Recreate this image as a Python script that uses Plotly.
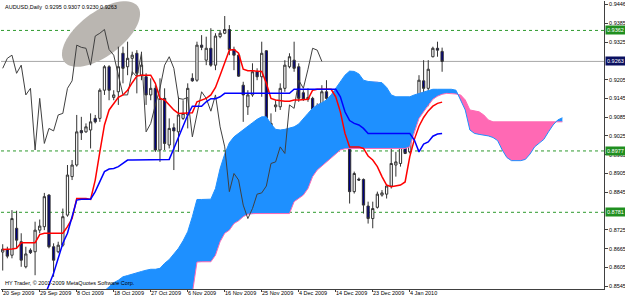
import numpy as np
import plotly.graph_objects as go

# ---------------- data ----------------
bars = list(range(96))
open_ = [0.8654,0.8662,0.8644,0.8730,0.8687,0.8607,0.8660,0.8655,0.8724,0.8735,
         0.8836,0.8671,0.8655,0.8676,0.8772,0.8895,0.8932,0.9042,0.9038,0.9044,
         0.9081,0.9081,0.9171,0.9246,0.9148,0.9166,0.9289,0.9246,0.9273,0.9289,
         0.9219,0.9214,0.9156,0.9177,0.8980,0.9145,0.8996,0.9051,0.9038,0.9081,
         0.9092,0.9209,0.9203,0.9315,0.9267,0.9305,0.9251,0.9342,0.9353,0.9365,
         0.9301,0.9283,0.9187,0.9118,0.9156,0.9230,0.9214,0.9297,0.9038,0.9118,
         0.9118,0.9177,0.9246,0.9267,0.9246,0.9163,0.9142,0.9145,0.9022,0.9092,
         0.9166,0.9099,0.9102,0.9156,0.9065,0.8990,0.8847,0.8887,0.8886,0.8801,
         0.8761,0.8797,0.8836,0.8839,0.8865,0.8932,0.8937,0.8990,0.8974,0.9127,
         0.9118,0.9201,0.9177,0.9278,0.9305,0.9295]
high = [0.8679,0.8671,0.8788,0.8786,0.8714,0.8671,0.8666,0.8751,0.8758,0.8843,
        0.8839,0.8682,0.8687,0.8793,0.8932,0.8948,0.9092,0.9086,0.9065,0.9097,
        0.9092,0.9177,0.9251,0.9251,0.9171,0.9310,0.9310,0.9326,0.9294,0.9299,
        0.9294,0.9225,0.9209,0.9187,0.9209,0.9177,0.9081,0.9065,0.9150,0.9139,
        0.9193,0.9225,0.9326,0.9347,0.9342,0.9369,0.9353,0.9363,0.9408,0.9379,
        0.9310,0.9285,0.9198,0.9171,0.9257,0.9241,0.9326,0.9299,0.9097,0.9139,
        0.9193,0.9267,0.9289,0.9326,0.9257,0.9171,0.9177,0.9150,0.9129,0.9187,
        0.9203,0.9118,0.9171,0.9166,0.9076,0.8993,0.8911,0.8892,0.8889,0.8815,
        0.8815,0.8847,0.8852,0.8868,0.8996,0.8974,0.9006,0.8996,0.9129,0.9156,
        0.9219,0.9267,0.9267,0.9310,0.9326,0.9307]
low = [0.8595,0.8634,0.8634,0.8666,0.8607,0.8602,0.8648,0.8580,0.8714,0.8724,
       0.8666,0.8575,0.8650,0.8671,0.8767,0.8884,0.8927,0.9012,0.9035,0.8985,
       0.9065,0.9070,0.9156,0.9139,0.9139,0.9124,0.9193,0.9219,0.9219,0.9161,
       0.9203,0.9124,0.9139,0.8974,0.8942,0.8980,0.8985,0.8916,0.8974,0.9076,
       0.9049,0.9198,0.9198,0.9299,0.9251,0.9246,0.9235,0.9337,0.9350,0.9283,
       0.9235,0.9214,0.9070,0.9092,0.9150,0.9203,0.9150,0.9028,0.8942,0.9102,
       0.9108,0.9166,0.9241,0.9230,0.9134,0.9137,0.9134,0.9012,0.9017,0.9086,
       0.9139,0.9092,0.9092,0.9049,0.8985,0.8809,0.8841,0.8882,0.8777,0.8745,
       0.8730,0.8793,0.8831,0.8825,0.8857,0.8895,0.8927,0.8967,0.8969,0.9102,
       0.9108,0.9118,0.9120,0.9276,0.9278,0.9230]
close = [0.8663,0.8641,0.8761,0.8692,0.8628,0.8648,0.8652,0.8724,0.8737,0.8831,
         0.8671,0.8628,0.8676,0.8767,0.8900,0.8932,0.9038,0.9035,0.9054,0.9070,
         0.9070,0.9171,0.9246,0.9171,0.9156,0.9246,0.9241,0.9273,0.9283,0.9225,
         0.9251,0.9156,0.9177,0.8980,0.9145,0.9001,0.9049,0.9041,0.9092,0.9097,
         0.9177,0.9201,0.9315,0.9308,0.9305,0.9251,0.9344,0.9353,0.9365,0.9301,
         0.9283,0.9216,0.9156,0.9156,0.9230,0.9214,0.9289,0.9038,0.9065,0.9124,
         0.9177,0.9251,0.9278,0.9241,0.9145,0.9142,0.9148,0.9022,0.9097,0.9166,
         0.9145,0.9104,0.9156,0.9054,0.8990,0.8847,0.8905,0.8884,0.8804,0.8761,
         0.8793,0.8839,0.8843,0.8865,0.8937,0.8942,0.8990,0.8969,0.9124,0.9113,
         0.9203,0.9177,0.9238,0.9305,0.9299,0.9263]

tenkan = [0.8662,0.8662,0.8664,0.8666,0.8684,0.8684,0.8684,0.8684,0.8710,0.8714,
          0.8714,0.8714,0.8714,0.8714,0.8735,0.8761,0.8825,0.8825,0.8825,0.8822,
          0.8884,0.8974,0.9060,0.9108,0.9129,0.9148,0.9156,0.9171,0.9195,0.9216,
          0.9219,0.9219,0.9219,0.9193,0.9145,0.9140,0.9124,0.9108,0.9097,0.9097,
          0.9097,0.9099,0.9134,0.9140,0.9145,0.9156,0.9180,0.9219,0.9257,0.9299,
          0.9301,0.9289,0.9238,0.9233,0.9233,0.9233,0.9231,0.9193,0.9145,0.9140,
          0.9137,0.9136,0.9136,0.9140,0.9140,0.9142,0.9142,0.9171,0.9174,0.9174,
          0.9174,0.9174,0.9150,0.9102,0.9033,0.8990,0.8990,0.8990,0.8985,0.8961,
          0.8948,0.8927,0.8895,0.8868,0.8863,0.8865,0.8868,0.8878,0.8958,0.9014,
          0.9056,0.9084,0.9105,0.9120,0.9129,0.9133]

kijun = [None,None,None,None,None,None,None,None,0.8474,0.8511,
         0.8543,0.8586,0.8634,0.8682,0.8714,0.8767,0.8820,0.8823,0.8823,0.8823,
         0.8847,0.8879,0.8911,0.8919,0.8921,0.8927,0.8937,0.8948,0.8948,0.8948,
         0.8948,0.8948,0.8948,0.8948,0.8948,0.8948,0.8950,0.8985,0.9022,0.9054,
         0.9092,0.9120,0.9120,0.9120,0.9134,0.9144,0.9144,0.9150,0.9161,0.9161,
         0.9161,0.9161,0.9161,0.9161,0.9161,0.9161,0.9161,0.9161,0.9161,0.9161,
         0.9161,0.9161,0.9161,0.9174,0.9174,0.9174,0.9174,0.9174,0.9174,0.9174,
         0.9174,0.9174,0.9174,0.9150,0.9102,0.9074,0.9065,0.9060,0.9049,0.9033,
         0.9033,0.9033,0.9033,0.9033,0.9033,0.9033,0.9033,0.9033,0.9033,0.9012,
         0.8974,0.8999,0.9006,0.9024,0.9031,0.9033]

chikou_shift = 26

span_bars = list(range(20, 122))
span_a = [0.8511,0.8520,0.8530,0.8543,0.8556,0.8564,0.8575,0.8579,0.8584,0.8588,
          0.8592,0.8596,0.8599,0.8599,0.8602,0.8618,0.8630,0.8648,0.8666,0.8690,
          0.8719,0.8767,0.8822,0.8822,0.8822,0.8823,0.8857,0.8921,0.8967,0.9003,
          0.9022,0.9034,0.9046,0.9056,0.9067,0.9078,0.9086,0.9086,0.9063,0.9046,
          0.9044,0.9046,0.9049,0.9054,0.9063,0.9081,0.9097,0.9113,0.9124,0.9131,
          0.9140,0.9156,0.9177,0.9198,0.9219,0.9232,0.9231,0.9223,0.9203,0.9199,
          0.9198,0.9198,0.9195,0.9180,0.9156,0.9150,0.9150,0.9150,0.9150,0.9156,
          0.9161,0.9166,0.9169,0.9174,0.9174,0.9174,0.9174,0.9174,0.9171,0.9140,
          0.9108,0.9044,0.9033,0.9030,0.9028,0.9025,0.9020,0.9010,0.8980,0.8956,
          0.8946,0.8945,0.8946,0.8950,0.8967,0.8990,0.9003,0.9014,0.9038,0.9060,
          0.9076,0.9083]
span_b = [0.8495,0.8495,0.8495,0.8495,0.8495,0.8495,0.8495,0.8495,0.8495,0.8495,
          0.8495,0.8495,0.8495,0.8495,0.8495,0.8495,0.8495,0.8495,0.8495,0.8495,
          0.8495,0.8522,0.8622,0.8623,0.8623,0.8623,0.8644,0.8687,0.8714,0.8724,
          0.8745,0.8754,0.8767,0.8775,0.8777,0.8777,0.8777,0.8777,0.8777,0.8777,
          0.8777,0.8777,0.8777,0.8815,0.8825,0.8836,0.8857,0.8895,0.8916,0.8929,
          0.8942,0.8953,0.8967,0.8980,0.8984,0.8985,0.8985,0.8985,0.8985,0.8985,
          0.8985,0.8985,0.8985,0.8985,0.8985,0.8985,0.8985,0.8985,0.8990,0.9038,
          0.9081,0.9102,0.9124,0.9142,0.9152,0.9158,0.9161,0.9161,0.9159,0.9156,
          0.9140,0.9108,0.9104,0.9102,0.9092,0.9076,0.9070,0.9070,0.9070,0.9070,
          0.9070,0.9070,0.9070,0.9070,0.9070,0.9070,0.9070,0.9070,0.9070,0.9070,
          0.9070,0.9070]

date_tick_bars = [0, 8, 16, 24, 32, 40, 48, 56, 64, 72, 80, 88]
date_labels = ["20 Sep 2009", "29 Sep 2009", "8 Oct 2009", "18 Oct 2009", "27 Oct 2009",
               "6 Nov 2009", "16 Nov 2009", "25 Nov 2009", "4 Dec 2009", "14 Dec 2009",
               "23 Dec 2009", "4 Jan 2010"]
price_ticks = [0.9446, 0.9385, 0.9325, 0.9205, 0.9145, 0.9085, 0.9025, 0.8965,
               0.8905, 0.8845, 0.8725, 0.8665, 0.8605, 0.8545]
price_labels = ["0.9446", "0.9385", "0.9325", "0.9205", "0.9145", "0.9085", "0.9025", "0.8965",
                "0.8905", "0.8845", "0.8725", "0.8665", "0.8605", "0.8545"]
green_levels = [0.9362, 0.8977, 0.8781]
bid_level = 0.9263
title_text = "AUDUSD,Daily  0.9295 0.9307 0.9230 0.9263"
copyright_text = "HY Trader, © 2001-2009 MetaQuotes Software Corp."

# ---------------- geometry ----------------
W, H = 625, 299
PL, PR, PT, PB = 1, 21, 1, 10          # margins
X_RANGE = [-0.37, 130.0]
Y_RANGE = [0.8536, 0.9456]
FONT = "Liberation Sans, Arial, sans-serif"
FS = 5.5

fig = go.Figure()

# ---------------- kumo (cloud) ----------------
xs = np.array(span_bars, float)
a = np.array(span_a)
b = np.array(span_b)
gx, ga, gb = [xs[0]], [a[0]], [b[0]]
for i in range(len(xs) - 1):
    d0 = a[i] - b[i]
    d1 = a[i + 1] - b[i + 1]
    if d0 * d1 < 0:
        t = d0 / (d0 - d1)
        xc = xs[i] + t * (xs[i + 1] - xs[i])
        yc = a[i] + t * (a[i + 1] - a[i])
        gx.append(xc); ga.append(yc); gb.append(yc)
    gx.append(xs[i + 1]); ga.append(a[i + 1]); gb.append(b[i + 1])
gx, ga, gb = np.array(gx), np.array(ga), np.array(gb)
top = np.maximum(ga, gb)

fig.add_trace(go.Scatter(x=np.concatenate([gx, gx[::-1]]), y=np.concatenate([top, gb[::-1]]),
                         fill="toself", fillcolor="#1e90ff", line=dict(width=0),
                         mode="lines", hoverinfo="skip", showlegend=False))
fig.add_trace(go.Scatter(x=np.concatenate([gx, gx[::-1]]), y=np.concatenate([top, ga[::-1]]),
                         fill="toself", fillcolor="#ff69b4", line=dict(width=0),
                         mode="lines", hoverinfo="skip", showlegend=False))
fig.add_trace(go.Scatter(x=span_bars, y=span_b, mode="lines",
                         line=dict(color="#ff69b4", width=1), showlegend=False, hoverinfo="skip"))
fig.add_trace(go.Scatter(x=span_bars, y=span_a, mode="lines",
                         line=dict(color="#1e90ff", width=1), showlegend=False, hoverinfo="skip"))

# ---------------- candles ----------------
fig.add_trace(go.Candlestick(
    x=bars, open=open_, high=high, low=low, close=close,
    increasing=dict(fillcolor="#ffffff", line=dict(color="#333333", width=1)),
    decreasing=dict(fillcolor="#000080", line=dict(color="#333333", width=1)),
    whiskerwidth=0, showlegend=False, hoverinfo="skip"))

# ---------------- lines ----------------
fig.add_trace(go.Scatter(x=bars[:-chikou_shift], y=close[chikou_shift:], mode="lines",
                         line=dict(color="#404040", width=1), showlegend=False, hoverinfo="skip"))
fig.add_trace(go.Scatter(x=bars, y=tenkan, mode="lines",
                         line=dict(color="#ff0000", width=1.5), showlegend=False, hoverinfo="skip"))
fig.add_trace(go.Scatter(x=bars, y=kijun, mode="lines",
                         line=dict(color="#0000ff", width=1.5), showlegend=False, hoverinfo="skip"))

# ---------------- shapes ----------------
shapes = []
for lv in green_levels:
    shapes.append(dict(type="line", xref="paper", x0=0, x1=1, yref="y", y0=lv, y1=lv,
                       line=dict(color="#2e9a2e", width=1, dash="dot"), layer="below"))
shapes.append(dict(type="line", xref="paper", x0=0, x1=1, yref="y", y0=bid_level, y1=bid_level,
                   line=dict(color="#a8a8a8", width=1), layer="below"))

# grey highlight ellipse (decoration), built in pixel space -> paper coords
pw = W - PL - PR
ph = H - PT - PB
tt = np.linspace(0, 2 * np.pi, 72)
cx, cy, ra, rb, ang = 101.0, 34.0, 46.0, 22.0, np.deg2rad(-37)
px = cx + ra * np.cos(tt) * np.cos(ang) - rb * np.sin(tt) * np.sin(ang)
py = cy + ra * np.cos(tt) * np.sin(ang) + rb * np.sin(tt) * np.cos(ang)
qx = (px - PL) / pw
qy = (H - PB - py) / ph
path = "M " + " L ".join(f"{u:.4f},{v:.4f}" for u, v in zip(qx, qy)) + " Z"
shapes.append(dict(type="path", xref="paper", yref="paper", path=path,
                   fillcolor="#bab6b1", line=dict(width=0), layer="below"))

# ---------------- annotations ----------------
ann = []
ann.append(dict(xref="paper", yref="paper", x=(3 - PL) / pw, y=(H - PB - 7) / ph,
                text=title_text, showarrow=False, xanchor="left", yanchor="middle",
                font=dict(family=FONT, size=FS, color="#000000")))
ann.append(dict(xref="paper", yref="paper", x=(3 - PL) / pw, y=(H - PB - 283) / ph,
                text=copyright_text, showarrow=False, xanchor="left", yanchor="middle",
                font=dict(family=FONT, size=FS, color="#000000")))
for bx, lab in zip(date_tick_bars, date_labels):
    ann.append(dict(xref="x", yref="paper", x=bx, y=0, text=lab, showarrow=False,
                    xanchor="left", yanchor="top", xshift=-1, yshift=0, borderpad=0,
                    font=dict(family=FONT, size=FS, color="#000000")))
for lv in green_levels:
    ann.append(dict(xref="paper", yref="y", x=1, y=lv, text=f"{lv:.4f}", showarrow=False,
                    xanchor="left", yanchor="middle", xshift=1, bgcolor="#1f8f1f", borderpad=1,
                    font=dict(family=FONT, size=FS, color="#ffffff")))
ann.append(dict(xref="paper", yref="y", x=1, y=bid_level, text=f"{bid_level:.4f}", showarrow=False,
                xanchor="left", yanchor="middle", xshift=1, bgcolor="#0a1060", borderpad=1,
                font=dict(family=FONT, size=FS, color="#ffffff")))

fig.update_layout(
    width=W, height=H, margin=dict(l=PL, r=PR, t=PT, b=PB, autoexpand=False),
    paper_bgcolor="#ffffff", plot_bgcolor="#ffffff",
    shapes=shapes, annotations=ann, showlegend=False, hovermode=False,
    xaxis=dict(range=X_RANGE, tickmode="array", tickvals=date_tick_bars, showticklabels=False,
               showgrid=False, zeroline=False, showline=True, linecolor="#404040", linewidth=1,
               ticks="outside", ticklen=2, tickcolor="#404040",
               rangeslider=dict(visible=False), fixedrange=True),
    yaxis=dict(range=Y_RANGE, side="right", tickmode="array", tickvals=price_ticks,
               ticktext=price_labels, showgrid=False, zeroline=False, showline=True,
               linecolor="#404040", linewidth=1, ticks="outside", ticklen=3, tickcolor="#404040",
               tickfont=dict(family=FONT, size=FS, color="#000000"), fixedrange=True),
)

fig.write_html("out.html")
